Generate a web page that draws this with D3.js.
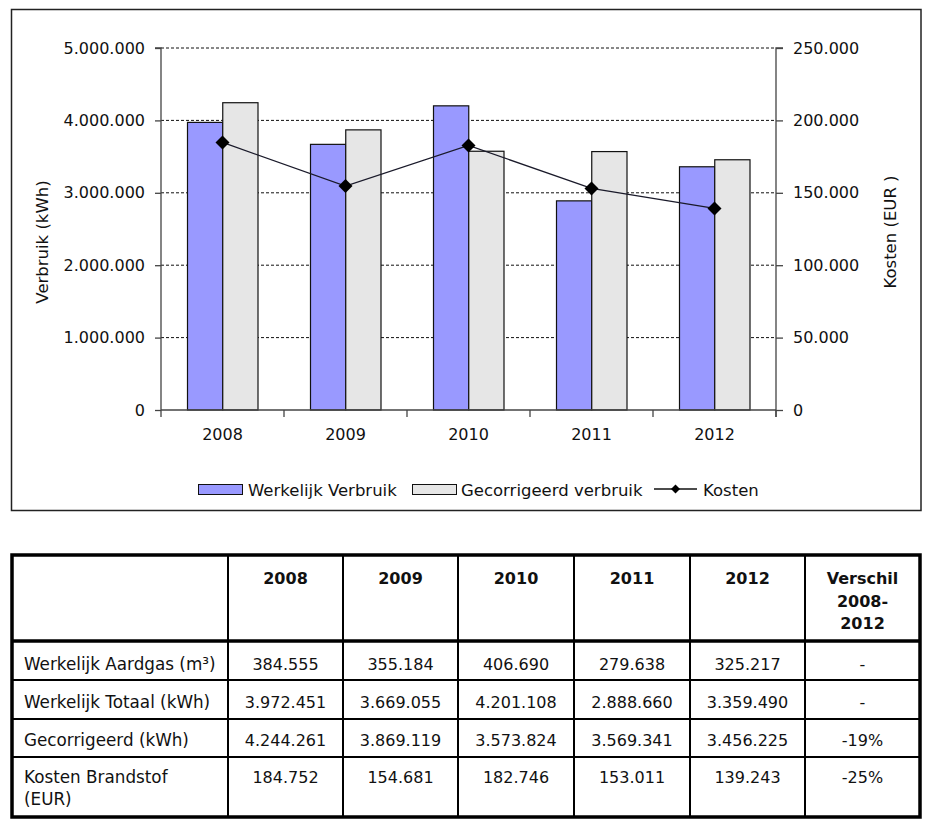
<!DOCTYPE html>
<html>
<head>
<meta charset="utf-8">
<script src="https://cdn.jsdelivr.net/npm/d3@7"></script>
<style>
  html, body { margin: 0; padding: 0; background: #fff; }
  svg { display: block; }
  text { font-family: "DejaVu Sans", Verdana, sans-serif; fill: #111; }
</style>
</head>
<body>
<svg id="chart" width="927" height="823"></svg>
<script>
// ---- data ----
const years = ["2008", "2009", "2010", "2011", "2012"];
const werkelijk = [3972451, 3669055, 4201108, 2888660, 3359490];
const gecorrigeerd = [4244261, 3869119, 3573824, 3569341, 3456225];
const kosten = [184752, 154681, 182746, 153011, 139243];
const aardgas = [384555, 355184, 406690, 279638, 325217];
const leftTicks = [0, 1000000, 2000000, 3000000, 4000000, 5000000];
const rightTicks = [0, 50000, 100000, 150000, 200000, 250000];
const seriesNames = ["Werkelijk Verbruik", "Gecorrigeerd verbruik", "Kosten"];
const tableHeader = ["", "2008", "2009", "2010", "2011", "2012", "Verschil\n2008-\n2012"];
const rowLabels = ["Werkelijk Aardgas (m³)", "Werkelijk Totaal (kWh)", "Gecorrigeerd (kWh)", "Kosten Brandstof\n(EUR)"];
const verschil = ["-", "-", "-19%", "-25%"];

const nl = d3.formatLocale({decimal: ",", thousands: ".", grouping: [3], currency: ["€", ""]});
const fmt = nl.format(",");

const svg = d3.select("#chart");

// ---- chart frame ----
svg.append("rect").attr("x", 11.5).attr("y", 9.5).attr("width", 909.5).attr("height", 501)
  .attr("fill", "#fff").attr("stroke", "#222").attr("stroke-width", 1.5);

const L = 161, R = 776, T = 48, B = 410;
const x = d3.scaleBand().domain(years).range([L, R]);
const x1 = d3.scaleBand().domain([0, 1]).range([26.5, 97]);
const yL = d3.scaleLinear().domain([0, 5000000]).range([B, T]);
const yR = d3.scaleLinear().domain([0, 250000]).range([B, T]);

// gridlines
svg.append("g").selectAll("line").data(leftTicks.filter(d => d > 0)).join("line")
  .attr("x1", L).attr("x2", R).attr("y1", d => yL(d)).attr("y2", d => yL(d))
  .attr("stroke", "#111").attr("stroke-width", 1).attr("stroke-dasharray", "3,2");

// bars
const colors = ["#9999FF", "#E6E6E6"];
const seriesVals = [werkelijk, gecorrigeerd];
seriesVals.forEach((vals, si) => {
  svg.append("g").selectAll("rect").data(years).join("rect")
    .attr("x", d => x(d) + x1(si))
    .attr("width", x1.bandwidth())
    .attr("y", (d, i) => yL(vals[i]))
    .attr("height", (d, i) => B - yL(vals[i]))
    .attr("fill", colors[si]).attr("stroke", "#111").attr("stroke-width", 1.2);
});

// axes
const axisColor = "#444";
const gLeft = svg.append("g").attr("transform", `translate(${L},0)`)
  .call(d3.axisLeft(yL).tickValues(leftTicks).tickFormat(fmt).tickSize(6).tickPadding(10));
const gRight = svg.append("g").attr("transform", `translate(${R},0)`)
  .call(d3.axisRight(yR).tickValues(rightTicks).tickFormat(fmt).tickSize(7).tickPadding(10));
const gBottom = svg.append("g").attr("transform", `translate(0,${B})`)
  .call(d3.axisBottom(x).tickSize(0).tickPadding(19));
[gLeft, gRight, gBottom].forEach(g => {
  g.select(".domain").attr("stroke", axisColor).attr("stroke-width", 1.3);
  g.selectAll(".tick line").attr("stroke", axisColor).attr("stroke-width", 1.3);
  g.selectAll(".tick text").attr("font-size", 16).attr("font-family", "DejaVu Sans").attr("fill", "#111");
});
gLeft.select(".domain").attr("d", `M-6,${T}H0V${B + 7}`);
gRight.select(".domain").attr("d", `M7,${T}H0V${B + 7}`);
gBottom.select(".domain").attr("d", `M${L},0H${R}`);
// category boundary ticks
svg.append("g").selectAll("line").data(years.slice(1).concat(["end"])).join("line")
  .attr("x1", d => d === "end" ? R : x(d)).attr("x2", d => d === "end" ? R : x(d))
  .attr("y1", B).attr("y2", B + 7).attr("stroke", axisColor).attr("stroke-width", 1.3);

// axis titles
svg.append("text").attr("transform", "translate(48,242) rotate(-90)")
  .attr("text-anchor", "middle").attr("font-size", 16.5).text("Verbruik (kWh)");
svg.append("text").attr("transform", "translate(896,232) rotate(-90)")
  .attr("text-anchor", "middle").attr("font-size", 16.5).text("Kosten (EUR )");

// cost line
const diamond = (cx, cy, h) => `M${cx},${cy - h}L${cx + h},${cy}L${cx},${cy + h}L${cx - h},${cy}Z`;
const line = d3.line().x((d, i) => x(years[i]) + x.bandwidth() / 2).y(d => yR(d));
svg.append("path").datum(kosten).attr("d", line).attr("fill", "none")
  .attr("stroke", "#1a1a2a").attr("stroke-width", 1.3);
svg.append("g").selectAll("path").data(kosten).join("path")
  .attr("d", (d, i) => diamond(x(years[i]) + x.bandwidth() / 2, yR(d), 7))
  .attr("fill", "#000");

// legend
const lg = svg.append("g").attr("font-size", 16.5);
lg.append("rect").attr("x", 198.5).attr("y", 484.5).attr("width", 44).attr("height", 10)
  .attr("fill", colors[0]).attr("stroke", "#111").attr("stroke-width", 1);
lg.append("text").attr("x", 248).attr("y", 496).text(seriesNames[0]);
lg.append("rect").attr("x", 412.5).attr("y", 484.5).attr("width", 44).attr("height", 10)
  .attr("fill", colors[1]).attr("stroke", "#111").attr("stroke-width", 1);
lg.append("text").attr("x", 461).attr("y", 496).text(seriesNames[1]);
lg.append("line").attr("x1", 654).attr("x2", 697).attr("y1", 489).attr("y2", 489)
  .attr("stroke", "#111").attr("stroke-width", 1.3);
lg.append("path").attr("d", diamond(675.5, 489, 4.5)).attr("fill", "#000");
lg.append("text").attr("x", 703).attr("y", 496).text(seriesNames[2]);

// ---- table ----
const colX = [12, 228, 343, 458, 574, 690, 805, 920];
const rowY = [555, 641, 680, 719, 757, 817];
const tg = svg.append("g");
tg.selectAll("line.v").data(colX.slice(1, -1)).join("line").attr("class", "v")
  .attr("x1", d => d).attr("x2", d => d).attr("y1", rowY[0]).attr("y2", rowY[5])
  .attr("stroke", "#000").attr("stroke-width", 2);
tg.selectAll("line.h").data(rowY.slice(2, -1)).join("line").attr("class", "h")
  .attr("x1", colX[0]).attr("x2", colX[7]).attr("y1", d => d).attr("y2", d => d)
  .attr("stroke", "#000").attr("stroke-width", 1.8);
tg.append("line").attr("x1", colX[0]).attr("x2", colX[7]).attr("y1", rowY[1]).attr("y2", rowY[1])
  .attr("stroke", "#000").attr("stroke-width", 3.5);
tg.append("rect").attr("x", colX[0]).attr("y", rowY[0]).attr("width", colX[7] - colX[0])
  .attr("height", rowY[5] - rowY[0]).attr("fill", "none").attr("stroke", "#000").attr("stroke-width", 3.5);

tableHeader.forEach((h, ci) => {
  if (!h) return;
  const cx = (colX[ci] + colX[ci + 1]) / 2;
  h.split("\n").forEach((ln, li) => {
    tg.append("text").attr("x", cx).attr("y", 584 + li * 22.5).attr("text-anchor", "middle")
      .attr("font-size", 16).attr("font-weight", "bold").text(ln);
  });
});

const tableRows = [aardgas, werkelijk, gecorrigeerd, kosten];
const baseY = [670, 708, 746, 783];
tableRows.forEach((vals, ri) => {
  rowLabels[ri].split("\n").forEach((ln, li) => {
    tg.append("text").attr("x", 24).attr("y", baseY[ri] + li * 22).attr("font-size", 16.8).text(ln);
  });
  vals.forEach((v, ci) => {
    tg.append("text").attr("x", (colX[ci + 1] + colX[ci + 2]) / 2).attr("y", baseY[ri])
      .attr("text-anchor", "middle").attr("font-size", 16).text(fmt(v));
  });
  tg.append("text").attr("x", (colX[6] + colX[7]) / 2).attr("y", baseY[ri])
    .attr("text-anchor", "middle").attr("font-size", 16).text(verschil[ri]);
});
</script>
</body>
</html>
